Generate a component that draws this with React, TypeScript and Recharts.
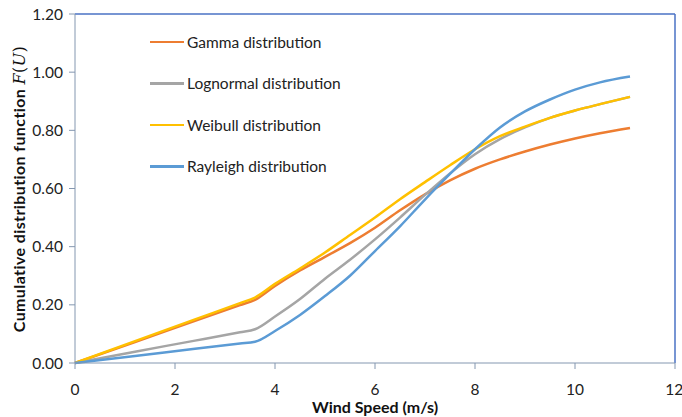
import { LineChart, Line, XAxis, YAxis, ReferenceLine } from "recharts";

const windSpeed = [0, 1.2, 2.4, 3.3, 3.6, 4, 4.5, 5, 5.5, 6, 6.5, 7, 7.5, 8, 8.5, 9, 9.5, 10, 10.5, 11.1];
const gamma = [0, 0.072, 0.145, 0.199, 0.217, 0.265, 0.318, 0.365, 0.412, 0.465, 0.525, 0.58, 0.628, 0.668, 0.7, 0.727, 0.751, 0.772, 0.79, 0.808];
const lognormal = [0, 0.039, 0.077, 0.106, 0.116, 0.16, 0.22, 0.29, 0.355, 0.425, 0.5, 0.578, 0.652, 0.718, 0.77, 0.81, 0.843, 0.868, 0.89, 0.915];
const weibull = [0, 0.075, 0.15, 0.206, 0.225, 0.272, 0.325, 0.38, 0.44, 0.5, 0.563, 0.622, 0.68, 0.735, 0.78, 0.813, 0.843, 0.868, 0.89, 0.915];
const rayleigh = [0, 0.024, 0.049, 0.067, 0.073, 0.11, 0.165, 0.23, 0.3, 0.385, 0.47, 0.562, 0.65, 0.735, 0.81, 0.865, 0.906, 0.94, 0.965, 0.985];
const xTicks = [0, 2, 4, 6, 8, 10, 12];
const yTicks = [0, 0.2, 0.4, 0.6, 0.8, 1.0, 1.2];

const series = [
  { key: "gamma", name: "Gamma distribution", color: "#ED7D31" },
  { key: "lognormal", name: "Lognormal distribution", color: "#A5A5A5" },
  { key: "weibull", name: "Weibull distribution", color: "#FFC000" },
  { key: "rayleigh", name: "Rayleigh distribution", color: "#5B9BD5" },
];

const data = windSpeed.map((w, i) => ({
  w,
  gamma: gamma[i],
  lognormal: lognormal[i],
  weibull: weibull[i],
  rayleigh: rayleigh[i],
}));

const FONT = "Lato, 'Open Sans', sans-serif";
const AXIS = "#8497B0";

function LegendBox() {
  return (
    <div style={{ position: "absolute", left: 150, top: 21, fontFamily: FONT, fontSize: 15.5, color: "#222" }}>
      {series.map((s) => (
        <div key={s.key} style={{ display: "flex", alignItems: "center", height: 41.5 }}>
          <span style={{ display: "inline-block", width: 34, height: 2.5, background: s.color, marginRight: 3 }} />
          {s.name}
        </div>
      ))}
    </div>
  );
}

function YTitle() {
  return (
    <text
      transform="translate(25, 189) rotate(-90)"
      textAnchor="middle"
      fontFamily={FONT}
      fontSize={16}
      fontWeight="bold"
      letterSpacing={0.4}
      fill="#111"
    >
      Cumulative distribution function{" "}
      <tspan fontFamily="'DejaVu Serif', serif" fontStyle="italic" fontWeight="normal">F</tspan>
      <tspan fontFamily="'DejaVu Serif', serif" fontWeight="normal">(</tspan>
      <tspan fontFamily="'DejaVu Serif', serif" fontStyle="italic" fontWeight="normal">U</tspan>
      <tspan fontFamily="'DejaVu Serif', serif" fontWeight="normal">)</tspan>
    </text>
  );
}

function XTitle() {
  return (
    <text x={375} y={413} textAnchor="middle" fontFamily={FONT} fontSize={16} fontWeight="bold" fill="#111">
      Wind Speed (m/s)
    </text>
  );
}

export default function App() {
  return (
    <div style={{ position: "absolute", left: 0, top: 0, width: 682, height: 417, background: "#fff" }}>
      <LineChart width={682} height={417} data={data} margin={{ top: 14, right: 7, bottom: 24, left: 0 }}>
        <XAxis
          dataKey="w"
          type="number"
          domain={[0, 12]}
          ticks={xTicks}
          stroke={AXIS}
          tickSize={6}
          tickMargin={15}
          height={30}
          tick={{ fill: "#222", fontFamily: FONT, fontSize: 15.5 }}
          label={{ content: () => <XTitle /> }}
        />
        <YAxis
          type="number"
          domain={[0, 1.2]}
          ticks={yTicks}
          stroke={AXIS}
          width={75}
          tickSize={6}
          tickMargin={6}
          tickFormatter={(v: number) => v.toFixed(2)}
          tick={{ fill: "#222", fontFamily: FONT, fontSize: 15.5 }}
          label={{ content: () => <YTitle /> }}
        />
        <ReferenceLine y={1.2} stroke="#4A72C4" strokeWidth={1.5} />
        <ReferenceLine x={12} stroke="#4A72C4" strokeWidth={1.5} />
        {series.map((s) => (
          <Line
            key={s.key}
            type="monotone"
            dataKey={s.key}
            name={s.name}
            stroke={s.color}
            strokeWidth={2.5}
            dot={false}
            isAnimationActive={false}
          />
        ))}
      </LineChart>
      <LegendBox />
    </div>
  );
}
